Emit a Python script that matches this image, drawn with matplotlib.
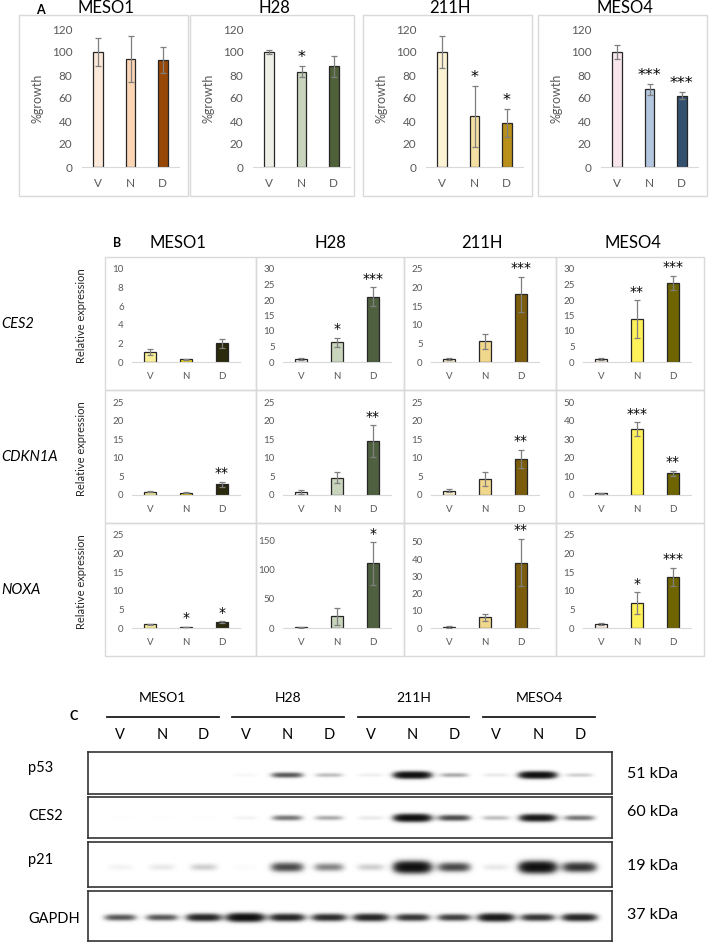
import numpy as np
import matplotlib.pyplot as plt
from matplotlib.patches import Rectangle

plt.rcParams['font.family'] = ['Lato', 'DejaVu Sans']

W, H = 709, 942

lines = ['MESO1', 'H28', '211H', 'MESO4']
conds = ['V', 'N', 'D']

# Panel A: % growth (mean, error) per cell line, V/N/D
growth_mean = [[100, 94, 93], [100, 83, 87.5], [100, 44, 38.5], [100, 67.5, 62]]
growth_err = [[12, 20, 11.5], [2, 4.5, 9], [14, 26.5, 12], [6, 4.5, 3]]
growth_stars = [['', '', ''], ['', '*', ''], ['', '*', '*'], ['', '***', '***']]

# Panel B: relative expression
genes = ['CES2', 'CDKN1A', 'NOXA']
ces2_mean = [[1.1, 0.3, 2.0], [1.0, 6.4, 21.1], [0.8, 5.6, 18.2], [1.0, 13.9, 25.6]]
ces2_err = [[0.3, 0.05, 0.5], [0.3, 1.5, 3.0], [0.2, 2.0, 4.7], [0.3, 6.1, 2.3]]
ces2_stars = [['', '', ''], ['', '*', '***'], ['', '', '***'], ['', '**', '***']]
cdkn1a_mean = [[0.9, 0.6, 2.9], [0.8, 4.7, 14.5], [1.2, 4.3, 9.7], [0.9, 35.3, 11.6]]
cdkn1a_err = [[0.15, 0.15, 0.7], [0.6, 1.5, 4.3], [0.3, 1.9, 2.5], [0.2, 3.7, 1.4]]
cdkn1a_stars = [['', '', '**'], ['', '', '**'], ['', '', '**'], ['', '***', '**']]
noxa_mean = [[1.0, 0.3, 1.55], [1.0, 20, 111], [0.6, 6.3, 38], [1.0, 6.7, 13.7]]
noxa_err = [[0.2, 0.05, 0.2], [0.5, 14, 37], [0.4, 2, 13.8], [0.3, 3, 2.5]]
noxa_stars = [['', '*', '*'], ['', '', '*'], ['', '', '**'], ['', '*', '***']]
ces2_ymax, ces2_step = [10, 30, 25, 30], [2, 5, 5, 5]
cdkn1a_ymax, cdkn1a_step = [25, 25, 25, 50], [5, 5, 5, 10]
noxa_ymax, noxa_step = [25, 160, 54, 25], [5, 50, 10, 5]

# Panel C: western blot band intensities (12 lanes)
blot_names = ['p53', 'CES2', 'p21', 'GAPDH']
blot_kda = ['51 kDa', '60 kDa', '19 kDa', '37 kDa']
p53_band = [0, 0, 0, 0.06, 0.55, 0.25, 0.1, 1.0, 0.3, 0.12, 1.0, 0.2]
ces2_band = [0.03, 0.03, 0.03, 0.08, 0.45, 0.3, 0.12, 1.0, 0.6, 0.25, 0.9, 0.45]
p21_band = [0.08, 0.12, 0.2, 0.04, 0.6, 0.4, 0.2, 1.0, 0.6, 0.12, 1.0, 0.7]
gapdh_band = [0.55, 0.55, 0.8, 1.0, 0.8, 0.75, 0.8, 0.7, 0.65, 0.9, 0.7, 0.8]

growth_colors = [['#fde9d9', '#fcd5b4', '#974706'], ['#eef0e8', '#c9d4bd', '#4f6138'],
                 ['#fcf3d4', '#f5e0a3', '#b8901a'], ['#f8e6ec', '#b3c6df', '#33506f']]
expr_colors = [['#fbf09a', '#f3dc1e', '#2b2a0c'], ['#f4f4f4', '#c8d4bc', '#4f6040'],
               ['#fdf2cd', '#f1d78c', '#7b5c0c'], ['#fcf1e4', '#fff15a', '#6e6500']]

GRAY = '#595959'
fig = plt.figure(figsize=(W / 100, H / 100), dpi=100)


def px_axes(l, t, r, b):
    return fig.add_axes([l / W, 1 - b / H, (r - l) / W, (b - t) / H])


ov = px_axes(0, 0, W, H)
ov.set_xlim(0, W)
ov.set_ylim(H, 0)
ov.axis('off')


def bar_panel(ax, vals, errs, stars, cols, ymax, step, width, fs, pad):
    x = np.arange(3)
    ax.bar(x, vals, width, color=cols, edgecolor='#262626', linewidth=0.9, zorder=2)
    ax.errorbar(x, vals, yerr=errs, fmt='none', ecolor='#7f7f7f', elinewidth=0.9,
                capsize=2.5, capthick=0.9, zorder=3)
    for xi, v, e, s in zip(x, vals, errs, stars):
        if s:
            ax.annotate(s, (xi, v + e), xytext=(0, 1), textcoords='offset points',
                        ha='center', va='bottom', fontsize=fs + 3, family='DejaVu Sans',
                        annotation_clip=False)
    ax.set_xlim(-0.5, 2.5)
    ax.set_ylim(0, ymax)
    ax.set_yticks(np.arange(0, ymax + 0.01, step))
    ax.set_xticks(x, conds)
    ax.set_facecolor('none')
    for sp in ['top', 'right', 'left']:
        ax.spines[sp].set_visible(False)
    ax.spines['bottom'].set_color('#d9d9d9')
    ax.tick_params(length=0, colors=GRAY, labelsize=fs, pad=pad)
    ax.tick_params(axis='x', pad=pad + 1)


# ---- Panel A ----
boxA = [(19, 188), (190, 354), (363, 532), (538, 707)]
for i, (l, r) in enumerate(boxA):
    ov.add_patch(Rectangle((l, 15), r - l, 181, fill=False, ec='#d9d9d9', lw=1))
    ov.text((l + r) / 2 + 2, 8, lines[i], ha='center', va='center', fontsize=12)
    ax = px_axes(l + 63, 29, l + 160, 167)
    bar_panel(ax, growth_mean[i], growth_err[i], growth_stars[i], growth_colors[i],
              120, 20, 0.3, 8.5, 7)
    ax.set_ylabel('%growth', color=GRAY, fontsize=9)
    ax.yaxis.set_label_coords(-0.40, 0.5)
ov.text(40, 10, 'A', ha='center', va='center', fontsize=9, fontweight='bold')

# ---- Panel B ----
cellB = [105, 256, 404, 556, 704]
rowsB = [257, 390, 523, 656]
exprs = [(ces2_mean, ces2_err, ces2_stars, ces2_ymax, ces2_step),
         (cdkn1a_mean, cdkn1a_err, cdkn1a_stars, cdkn1a_ymax, cdkn1a_step),
         (noxa_mean, noxa_err, noxa_stars, noxa_ymax, noxa_step)]
for r, (means, errs, stars, ymax, step) in enumerate(exprs):
    top = rowsB[r]
    ov.text(1, top + 67, genes[r], ha='left', va='center', fontsize=10.5, style='italic')
    for c in range(4):
        l = cellB[c]
        ov.add_patch(Rectangle((l, top), cellB[c + 1] - l, 133, fill=False, ec='#d9d9d9', lw=1))
        ax = px_axes(l + 27, top + 12, l + 135, top + 105)
        bar_panel(ax, means[c], errs[c], stars[c], expr_colors[c], ymax[c], step[c],
                  0.36, 7, 6)
        if c == 0:
            ax.set_ylabel('Relative expression', color='#262626', fontsize=8)
            ax.yaxis.set_label_coords(-0.42, 0.5)
ov.text(117, 243, 'B', ha='center', va='center', fontsize=9, fontweight='bold')
for c, xc in enumerate([178, 330, 482, 633]):
    ov.text(xc, 243, lines[c], ha='center', va='center', fontsize=12)

# ---- Panel C: western blot ----
lane_x = 120 + 41.8 * np.arange(12)
ov.text(74, 716, 'C', ha='center', va='center', fontsize=9, fontweight='bold')
for g in range(4):
    x0, x1 = lane_x[3 * g] - 13, lane_x[3 * g + 2] + 15
    ov.plot([x0, x1], [717, 717], color='#1a1a1a', lw=1.3)
    ov.text((x0 + x1) / 2, 698, lines[g], ha='center', va='center', fontsize=10)
for i, xl in enumerate(lane_x):
    ov.text(xl, 735, conds[i % 3], ha='center', va='center', fontsize=10.5)

blot_boxes = [(752, 794), (797, 838), (842, 887), (891, 941)]
blot_bands = [p53_band, ces2_band, p21_band, gapdh_band]
band_pos = [0.55, 0.51, 0.56, 0.53]
band_h = [0.09, 0.1, 0.14, 0.09]
label_y = [768, 816, 860, 919]
kda_y = [774, 812, 866, 915]
bl, br = 88, 612
xl0 = (bl - 120) / 41.8
xl1 = (br - 120) / 41.8
gx = np.linspace(xl0, xl1, 700)
for k, (t, b) in enumerate(blot_boxes):
    ax = px_axes(bl, t, br, b)
    gy = np.linspace(0, 1, 80)
    X, Y = np.meshgrid(gx, gy)
    dens = np.zeros_like(X)
    for i, a in enumerate(blot_bands[k]):
        hw = 0.32 + 0.14 * a
        wy = band_h[k] * (0.55 + 0.45 * a)
        dens += a * np.exp(-np.abs((X - i) / hw) ** 4) * np.exp(-((Y - band_pos[k]) / wy) ** 2)
    dark = 1 - np.exp(-2.8 * dens ** 1.6)
    ax.imshow(dark, cmap='gray_r', vmin=0, vmax=1, aspect='auto',
              extent=(xl0, xl1, 1, 0), interpolation='bilinear')
    ax.set_xticks([])
    ax.set_yticks([])
    for sp in ax.spines.values():
        sp.set_color('#333333')
        sp.set_linewidth(1.2)
    ov.text(28, label_y[k], blot_names[k], ha='left', va='center', fontsize=10.5)
    ov.text(627, kda_y[k], blot_kda[k], ha='left', va='center', fontsize=11.5)

fig.savefig('out.png', dpi=100)
